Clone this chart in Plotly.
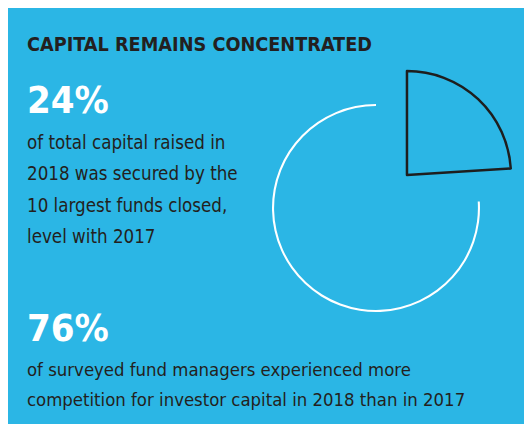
import plotly.graph_objects as go

# the page body adds an 8px margin, so the figure fills the rest of the window
W, H = 524, 416

# chart data
slice_labels = ["10 largest funds", "All other funds"]
slice_values = [24, 76]

title_text = "CAPITAL REMAINS CONCENTRATED"
stat_top = "24%"
stat_top_text = ["of total capital raised in", "2018 was secured by the",
                 "10 largest funds closed,", "level with 2017"]
stat_bottom = "76%"
stat_bottom_text = ["of surveyed fund managers experienced more",
                    "competition for investor capital in 2018 than in 2017"]

BLUE = "#2BB6E5"
DARK = "#231f20"
FONT = "DejaVu Sans Condensed, sans-serif"


def px_x(x):
    return x / W


def px_y(y):
    return 1 - y / H


# pie geometry (pixels): centre, radius, pull of the small slice
cx, cy, r = 368, 200, 104
pull = 0.435
half = r * (1 + pull)
dom_x = [px_x(cx - half), px_x(cx + half)]
dom_y = [px_y(cy + half), px_y(cy - half)]

fig = go.Figure()

# white ring for the 76% share (no radial edges)
fig.add_trace(go.Pie(
    labels=slice_labels, values=slice_values, sort=False,
    direction="clockwise", rotation=0, hole=0.98,
    pull=[pull, 0], domain=dict(x=dom_x, y=dom_y),
    marker=dict(colors=["rgba(0,0,0,0)", "white"], line=dict(width=0)),
    textinfo="none", hoverinfo="skip", showlegend=False,
))

# black outlined wedge for the 24% share, pulled out
fig.add_trace(go.Pie(
    labels=slice_labels, values=slice_values, sort=False,
    direction="clockwise", rotation=0,
    pull=[pull, 0], domain=dict(x=dom_x, y=dom_y),
    marker=dict(colors=[BLUE, "rgba(0,0,0,0)"],
                line=dict(color="#1e1e1e", width=[2.5, 0])),
    textinfo="none", hoverinfo="skip", showlegend=False,
))


def note(text, baseline, size, color, bold=False):
    # place a single line of text by its baseline
    fig.add_annotation(
        text=f"<b>{text}</b>" if bold else text,
        x=px_x(17), y=px_y(baseline - 1.03 * size), xref="paper", yref="paper",
        xanchor="left", yanchor="top", align="left", showarrow=False,
        font=dict(family=FONT, size=size, color=color),
    )


note(title_text, 43, 19.7, DARK, bold=True)
note(stat_top, 107, 38, "white", bold=True)
for i, line in enumerate(stat_top_text):
    note(line, 141 + 31.5 * i, 18.6, DARK)
note(stat_bottom, 335, 38, "white", bold=True)
for i, line in enumerate(stat_bottom_text):
    note(line, 368 + 30 * i, 18.4, DARK)

fig.update_layout(
    width=W, height=H,
    margin=dict(l=0, r=0, t=0, b=0),
    paper_bgcolor=BLUE,
)

# no scrollbars: the figure runs to the window's right and bottom edges
fig.write_html(
    "out.html",
    post_script="document.documentElement.style.overflow = 'hidden';"
                "document.body.style.overflow = 'hidden';",
)
